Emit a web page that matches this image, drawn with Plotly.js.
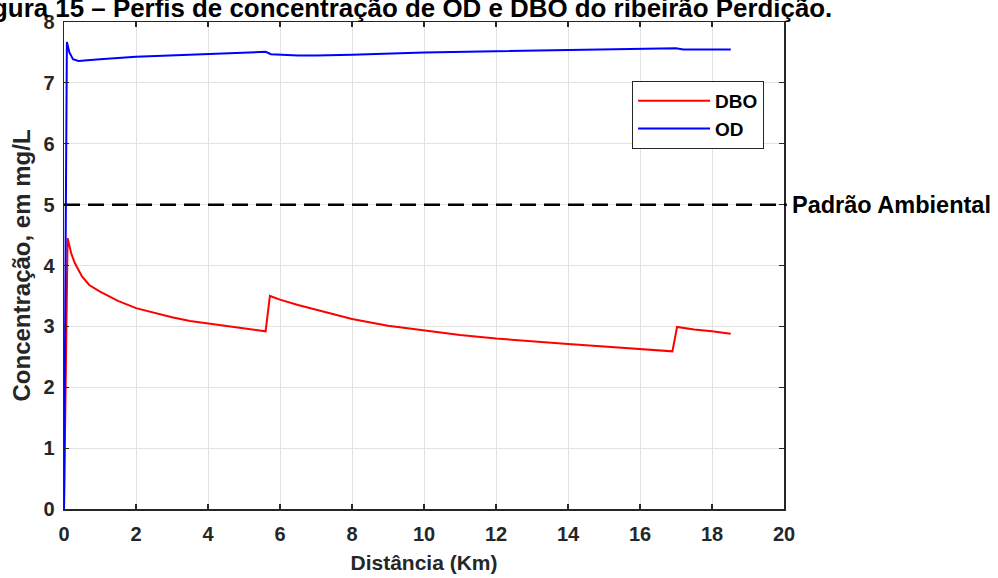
<!DOCTYPE html>
<html>
<head>
<meta charset="utf-8">
<script src="https://cdn.plot.ly/plotly-3.0.1.min.js"></script>
<style>
  html, body { margin: 0; padding: 0; background: #ffffff; }
  #chart { width: 998px; height: 578px; }
</style>
</head>
<body>
<div id="chart"></div>
<script>
// Distance along the stream (km) and simulated concentrations (mg/L)
const distDBO = [0, 0.1, 0.2, 0.3, 0.5, 0.7, 1.0, 1.5, 2.0, 2.5, 3.0, 3.5, 4.0, 4.5, 5.0, 5.6,
                 5.72, 6.0, 6.5, 7.0, 8.0, 9.0, 10.0, 11.0, 12.0, 13.0, 14.0, 15.0, 16.0, 16.9,
                 17.03, 17.5, 18.0, 18.52];
const dbo = [0, 4.45, 4.2, 4.04, 3.82, 3.68, 3.57, 3.42, 3.30, 3.22, 3.15, 3.09, 3.05, 3.01, 2.97, 2.92,
             3.50, 3.44, 3.35, 3.27, 3.12, 3.01, 2.93, 2.86, 2.80, 2.75, 2.71, 2.67, 2.63, 2.59,
             2.99, 2.95, 2.92, 2.88];

const distOD = [0, 0.08, 0.15, 0.25, 0.4, 0.7, 1.0, 2.0, 3.0, 4.0, 5.0, 5.6, 5.75, 6.0, 6.5, 7.0,
                8.0, 10.0, 12.0, 14.0, 16.0, 17.0, 17.2, 18.52];
const od = [0, 7.67, 7.5, 7.39, 7.36, 7.37, 7.39, 7.43, 7.45, 7.47, 7.49, 7.51, 7.47, 7.46, 7.45, 7.45,
            7.46, 7.50, 7.52, 7.54, 7.56, 7.57, 7.55, 7.55];

// Environmental standard for dissolved oxygen (mg/L)
const padraoAmbiental = 5;

const xTicks = [0, 2, 4, 6, 8, 10, 12, 14, 16, 18, 20];
const yTicks = [0, 1, 2, 3, 4, 5, 6, 7, 8];

const FONT = 'Liberation Sans, Arial, sans-serif';

const traces = [
  { x: distDBO, y: dbo, name: 'DBO', type: 'scatter', mode: 'lines',
    line: { color: '#ff0000', width: 2 } },
  { x: distOD, y: od, name: 'OD', type: 'scatter', mode: 'lines',
    line: { color: '#0000ff', width: 2 } }
];

const axisCommon = {
  showline: true, linecolor: '#262626', linewidth: 1.5, mirror: 'ticks',
  ticks: 'inside', ticklen: 5, tickwidth: 1.2, tickcolor: '#262626',
  showgrid: true, gridcolor: '#e2e2e2', gridwidth: 1, zeroline: false,
  tickfont: { family: FONT, size: 20, color: '#262626', weight: 'bold' }
};

const layout = {
  width: 998, height: 578,
  margin: { l: 64, r: 214, t: 22, b: 69 },
  paper_bgcolor: '#ffffff', plot_bgcolor: '#ffffff',
  showlegend: true,
  legend: {
    x: 0.789, y: 0.879, xanchor: 'left', yanchor: 'top',
    bgcolor: '#ffffff', bordercolor: '#262626', borderwidth: 1,
    font: { family: FONT, size: 19, color: '#000000', weight: 'bold' },
    itemwidth: 72, tracegroupgap: 0
  },
  xaxis: Object.assign({}, axisCommon, {
    range: [0, 20], tickvals: xTicks, ticktext: xTicks.map(String),
    ticklabelstandoff: 6,
    title: { text: 'Distância (Km)', standoff: 12,
             font: { family: FONT, size: 21, color: '#262626', weight: 'bold' } }
  }),
  yaxis: Object.assign({}, axisCommon, {
    range: [0, 8], tickvals: yTicks, ticktext: yTicks.map(String),
    ticklabelstandoff: 4,
    title: { text: 'Concentração, em mg/L', standoff: 6,
             font: { family: FONT, size: 24, color: '#262626', weight: 'bold' } }
  }),
  shapes: [
    { type: 'line', xref: 'paper', yref: 'y', x0: 0, x1: 1.004,
      y0: padraoAmbiental, y1: padraoAmbiental,
      line: { color: '#000000', width: 2.5, dash: '16px,8px' } }
  ],
  annotations: [
    { xref: 'paper', yref: 'y', x: 1.008, y: padraoAmbiental, xanchor: 'left', yanchor: 'middle',
      text: 'Padrão Ambiental', showarrow: false,
      font: { family: FONT, size: 23.5, color: '#000000', weight: 'bold' } },
    { xref: 'paper', yref: 'paper', x: (834 - 64) / 720, y: (509 - 8) / 487,
      xanchor: 'right', yanchor: 'middle', showarrow: false,
      text: 'Figura 15 – Perfis de concentração de OD e DBO do ribeirão Perdição.',
      font: { family: FONT, size: 25.9, color: '#000000', weight: 'bold' } }
  ]
};

Plotly.newPlot('chart', traces, layout, { displayModeBar: false, staticPlot: true });
</script>
</body>
</html>
